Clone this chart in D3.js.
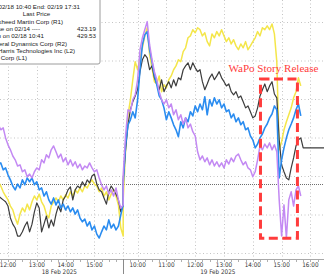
<!DOCTYPE html>
<html><head><meta charset="utf-8">
<script src="https://cdn.jsdelivr.net/npm/d3@7/dist/d3.min.js"></script>
<style>html,body{margin:0;padding:0;background:#fff;overflow:hidden}</style>
</head><body><svg id="c" width="324" height="274"></svg>
<script>
// ---- data (relative level units; gridlines every 10) ----
const stepMinutes = 5;
const day1Start = "11:40";   // 18 Feb 2025, values every 5 min to 16:00
const day2Start = "09:30";   // 19 Feb 2025, values every 5 min to 15:40

const lockheedDay1 = [14.8,14.3,13.8,13.3,12.2,9.1,7.5,6.5,4.4,4.4,5.5,7.0,8.1,5.5,7.5,10.7,13.0,11.7,5.5,7.5,9.6,6.5,8.6,7.0,10.1,12.2,10.7,13.8,14.8,16.4,17.2,13.8,16.4,17.4,16.9,18.5,17.4,19.0,18.2,20.0,20.5,17.9,16.4,15.9,14.3,12.7,15.9,17.4,16.4,15.3,13.8,10.7,12.5];
const lockheedDay2 = [19.0,26.8,33.3,37.2,39.3,40.8,42.4,47.1,50.2,51.5,50.7,47.6,48.6,45.5,43.9,42.4,45.0,41.9,43.4,44.5,42.9,45.0,43.4,45.5,45.0,47.6,48.6,49.4,47.6,49.4,48.1,47.1,47.6,44.5,42.4,43.9,45.5,46.5,45.0,46.0,47.1,45.5,44.5,43.4,43.9,41.9,41.1,41.9,40.3,40.8,39.3,37.7,38.2,36.7,35.1,35.6,37.7,40.8,42.4,43.9,41.9,43.4,44.5,41.3,40.3,29.4,22.9,21.1,19.5,19.0,22.1,24.7,27.8,29.4,29.9];
const lockheedAfterTimes = ["15:45","17:31"];
const lockheedAfter = [27.3,27.3];

const genDynDay1 = [33.3,32.0,32.5,29.9,28.1,26.8,25.2,24.2,22.6,22.9,21.1,21.6,19.8,20.5,19.5,21.1,22.1,21.6,24.2,23.4,25.5,24.7,26.8,27.8,26.3,24.7,25.7,23.7,24.7,22.9,24.2,22.6,23.7,22.1,23.1,21.6,22.6,22.1,23.4,22.1,21.1,21.6,19.5,17.7,16.4,17.4,15.3,16.4,14.8,16.9,13.8,11.7,12.5];
const genDynDay2 = [20.3,30.7,37.2,36.7,39.8,41.1,45.0,52.8,55.9,58.0,60.1,54.1,50.2,47.1,45.0,41.9,39.8,38.7,39.8,37.7,38.7,35.9,37.2,34.6,35.9,33.5,35.1,32.5,33.5,31.5,30.4,26.3,24.2,25.2,23.7,24.7,22.9,24.2,22.6,23.7,22.4,23.4,22.1,24.2,23.1,24.7,23.7,25.2,25.7,24.2,22.9,23.7,22.1,21.6,19.8,21.1,24.2,27.8,26.8,28.3,27.3,28.6,26.8,28.1,26.3,13.8,4.4,12.5,3.9,13.8,15.9,12.2,16.4,17.4,14.8];

const l3harrisDay1 = [22.9,23.4,21.6,22.1,20.3,19.0,17.4,16.4,17.9,16.9,19.0,17.7,19.5,18.5,19.5,17.7,18.5,16.4,16.9,14.8,15.9,13.8,12.7,14.3,12.5,13.8,11.7,12.7,11.2,12.2,10.7,11.7,10.1,11.2,9.1,8.1,8.8,7.0,8.1,6.0,7.0,4.9,3.9,5.5,7.0,6.0,8.6,6.5,7.5,6.0,7.0,9.9,12.5];
const l3harrisDay2 = [17.7,28.1,33.3,34.6,36.7,35.1,39.8,47.6,54.1,56.7,57.5,52.8,49.7,46.3,43.7,40.8,39.8,37.7,34.6,36.7,35.1,33.3,32.0,30.2,34.1,32.5,35.1,34.1,36.7,35.6,38.2,36.7,38.7,37.2,40.6,35.9,39.8,38.2,40.3,38.7,39.8,37.7,38.7,36.7,37.2,35.1,36.1,34.1,35.1,33.3,34.1,32.0,32.5,30.4,29.4,27.3,28.3,29.9,30.9,32.5,33.5,35.1,36.1,38.2,37.2,19.5,24.2,27.3,29.9,32.0,33.5,35.1,37.2,38.7,35.6];

const rtxDay1 = [18.5,17.4,15.9,14.8,13.8,12.2,11.2,9.1,7.5,10.1,11.7,10.7,12.7,11.2,13.3,14.8,13.8,15.3,13.3,12.2,10.1,9.1,12.2,13.3,14.3,13.3,14.8,13.8,15.1,14.3,15.9,14.8,16.4,15.6,16.9,15.9,17.4,16.9,18.2,19.0,17.9,17.4,15.9,16.9,14.8,15.9,13.8,15.3,16.4,14.8,12.5,6.5,4.4];
const rtxDay2 = [13.8,26.8,35.9,39.8,45.0,49.7,47.6,50.7,53.3,56.4,58.5,51.5,48.1,44.5,43.9,46.0,41.9,43.7,42.9,45.0,46.0,47.6,48.6,50.2,49.7,52.3,53.3,55.9,56.4,58.0,57.2,58.5,58.0,56.4,57.2,54.9,53.8,56.9,55.9,57.5,56.4,58.0,56.4,54.9,55.9,54.3,55.4,53.8,52.8,54.3,53.3,54.9,52.8,53.8,54.9,55.9,57.5,56.4,58.5,58.0,59.0,58.0,59.5,56.9,49.7,26.8,28.9,32.0,34.1,35.9,37.7,40.3,41.9,45.5,43.4];

const closeRefValue = 17.9;          // Close on 02/14 (423.19)
const gridValues = [0,10,20,30,40,50,60];
const day1HourLabels = ["12:00","13:00","14:00","15:00"];
const day2HourLabels = ["10:00","11:00","12:00","13:00","14:00","15:00","16:00"];
const dateLabels = [["18 Feb 2025", 18, "13:47"], ["19 Feb 2025", 19, "12:47"]];
const legendLines = ["Start: 02/18 10:40  End: 02/19 17:31","Last Price","Lockheed Martin Corp  (R1)","Close on 02/14 ----","High on 02/18 10:41","General Dynamics Corp  (R2)","L3Harris Technologies Inc  (L2)","RTX Corp  (L1)"];
const legendValues = ["423.19","429.53"];
const boxAnno = {from:"14:16", to:"15:33", top:45.2, bottom:3.8, label:"WaPo Story Release", labelAt:"14:43"};

// ---- helpers ----
function sessionHours(day, hhmm){
  const [h,m] = hhmm.split(":").map(Number);
  const hr = h + m/60;
  return day === 18 ? hr - 9.5 : 6.5 + hr - 9.5;
}
function build(vals, day, start){
  const t0 = sessionHours(day, start);
  return vals.map((v,i)=>({t: t0 + i*stepMinutes/60, v}));
}

const W = 324, H = 274, axisY = 259;
const x = d3.scaleLinear().domain([2.5, 13]).range([8, 310.4]);
const y = d3.scaleLinear().domain([0, 60]).range([253, 22]);

const svg = d3.select("#c");
svg.append("defs").append("clipPath").attr("id","plot")
  .append("rect").attr("x",0).attr("y",0).attr("width",W).attr("height",axisY);

// grid
const g = svg.append("g");
g.selectAll(".hg").data(gridValues).enter().append("line")
  .attr("x1",0).attr("x2",W).attr("y1",d=>y(d)+0.5).attr("y2",d=>y(d)+0.5)
  .attr("stroke","#c4c4c4").attr("stroke-width",1).attr("stroke-dasharray","1,2.5");
const vTicks = day1HourLabels.map(s=>sessionHours(18,s)).concat([sessionHours(19,"09:30")]).concat(day2HourLabels.map(s=>sessionHours(19,s)));
g.selectAll(".vg").data(vTicks).enter().append("line")
  .attr("x1",d=>Math.round(x(d))+0.5).attr("x2",d=>Math.round(x(d))+0.5).attr("y1",0).attr("y2",axisY)
  .attr("stroke","#c4c4c4").attr("stroke-width",1).attr("stroke-dasharray","1,2.5");

// reference line (close on 02/14)
svg.append("line").attr("x1",0).attr("x2",W).attr("y1",Math.round(y(closeRefValue))+0.5).attr("y2",Math.round(y(closeRefValue))+0.5)
  .attr("stroke","#6e6e6e").attr("stroke-width",1).attr("stroke-dasharray","1,1");

// series
const line = d3.line().x(d=>x(d.t)).y(d=>y(d.v));
const series = [
  {name:"RTX", color:"#f4e64a", w:1.5, data: build(rtxDay1,18,day1Start).concat(build(rtxDay2,19,day2Start))},
  {name:"Lockheed", color:"#3c3c3c", w:1.2, data: build(lockheedDay1,18,day1Start).concat(build(lockheedDay2,19,day2Start)).concat(lockheedAfterTimes.map((s,i)=>({t:sessionHours(19,s), v:lockheedAfter[i]})))},
  {name:"L3Harris", color:"#2a8cf0", w:1.6, data: build(l3harrisDay1,18,day1Start).concat(build(l3harrisDay2,19,day2Start))},
  {name:"GD", color:"#c389f3", w:1.5, data: build(genDynDay1,18,day1Start).concat(build(genDynDay2,19,day2Start))}
];
svg.append("g").attr("clip-path","url(#plot)").selectAll("path").data(series).enter().append("path")
  .attr("d",d=>line(d.data)).attr("fill","none").attr("stroke",d=>d.color)
  .attr("stroke-width",d=>d.w).attr("stroke-linejoin","round");

// axis
const ax = svg.append("g");
ax.append("line").attr("x1",0).attr("x2",W).attr("y1",axisY+0.5).attr("y2",axisY+0.5).attr("stroke","#a8a8a8");
const minor = d3.range(Math.ceil(x.invert(0)*4), Math.floor(x.invert(W)*4)+1).map(q=>q/4);
ax.selectAll(".mt").data(minor).enter().append("line")
  .attr("x1",d=>Math.round(x(d))+0.5).attr("x2",d=>Math.round(x(d))+0.5).attr("y1",axisY+1).attr("y2",axisY+3)
  .attr("stroke","#b0b0b0");
ax.append("line").attr("x1",Math.round(x(6.5))+0.5).attr("x2",Math.round(x(6.5))+0.5).attr("y1",axisY).attr("y2",H)
  .attr("stroke","#8a8a8a");
const labFont = "'Liberation Sans Narrow','DejaVu Sans Condensed','Arial Narrow',sans-serif";
const hourLabs = day1HourLabels.map(s=>({s,t:sessionHours(18,s)})).concat(day2HourLabels.map(s=>({s,t:sessionHours(19,s)})));
ax.selectAll(".hl").data(hourLabs).enter().append("text")
  .attr("x",d=>x(d.t)).attr("y",266.5).attr("text-anchor","middle")
  .attr("font-family",labFont).attr("font-size",6.3).attr("fill","#333").text(d=>d.s);
ax.selectAll(".dl").data(dateLabels).enter().append("text")
  .attr("x",d=>x(sessionHours(d[1],d[2]))).attr("y",273.5).attr("text-anchor","middle")
  .attr("font-family",labFont).attr("font-size",6.3).attr("fill","#333").text(d=>d[0]);

// annotation
const bx0 = x(sessionHours(19,boxAnno.from)), bx1 = x(sessionHours(19,boxAnno.to));
svg.append("rect").attr("x",bx0).attr("y",y(boxAnno.top)).attr("width",bx1-bx0).attr("height",y(boxAnno.bottom)-y(boxAnno.top))
  .attr("fill","none").attr("stroke","#ff3c3c").attr("stroke-width",3).attr("stroke-dasharray","9,4.5");
svg.append("text").attr("x",x(sessionHours(19,boxAnno.labelAt))).attr("y",y(boxAnno.top)-6.5).attr("text-anchor","middle")
  .attr("font-family","'Liberation Serif','Times New Roman',serif").attr("font-size",10.8).attr("fill","#ff3c3c")
  .attr("textLength",90).attr("lengthAdjust","spacingAndGlyphs")
  .text(boxAnno.label);

// legend
const lg = svg.append("g");
lg.append("rect").attr("x",-6).attr("y",-6).attr("width",106).attr("height",70).attr("rx",2)
  .attr("fill","#fff").attr("stroke","#9c9c9c");
const lgFont = "'Liberation Sans','DejaVu Sans',sans-serif";
const lgPos = [[80,"end"],[36.5,"middle"],[63,"end"],[40,"end"],[44,"end"],[67,"end"],[75,"end"],[27,"end"]];
lg.selectAll(".lt").data(legendLines).enter().append("text")
  .attr("x",(d,i)=>lgPos[i][0]).attr("y",(d,i)=>9+i*7.3).attr("text-anchor",(d,i)=>lgPos[i][1])
  .attr("font-family",lgFont).attr("font-size",6.2).attr("fill","#222").text(d=>d);
lg.selectAll(".lv").data(legendValues).enter().append("text")
  .attr("x",96).attr("y",(d,i)=>9+(3+i)*7.3).attr("text-anchor","end")
  .attr("font-family",lgFont).attr("font-size",6.2).attr("fill","#222").text(d=>d);
</script></body></html>
